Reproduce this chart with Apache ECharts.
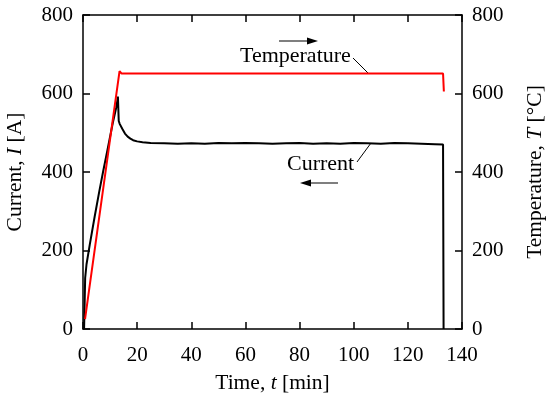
<!DOCTYPE html>
<html><head><meta charset="utf-8">
<script src="https://cdn.jsdelivr.net/npm/echarts@6/dist/echarts.min.js"></script>
<style>html,body{margin:0;padding:0;background:#fff}#c{width:550px;height:398px}</style>
</head><body><div id="c"></div>
<script>
const xTicks = [0, 20, 40, 60, 80, 100, 120, 140];
const yTicks = [0, 200, 400, 600, 800];
const currentTime = [0.4, 0.8, 1.3, 2.5, 4.3, 6, 7.4, 9, 11, 12.3, 12.9, 13.2, 13.6, 14.5, 15.5, 16.5, 17.5, 18.5, 20, 22, 25, 30, 35, 40, 45, 50, 55, 60, 65, 70, 75, 80, 85, 90, 95, 100, 105, 110, 115, 120, 125, 130, 133.0, 133.2];
const currentA = [0, 130, 165, 215, 286, 350, 400, 455, 525, 565, 592, 530, 522, 510, 498, 490, 485, 481, 478, 476, 474, 473, 472, 473, 472, 474, 473, 474, 473, 472, 473, 474, 472, 473, 472, 474, 473, 472, 474, 473, 472, 471, 470, 0];
const tempTime = [0.75, 13.5, 14.2, 30, 60, 90, 120, 133.0, 133.3];
const tempC = [25, 657, 651, 651, 651, 651, 651, 651, 605];

const FONT = "'Liberation Serif', 'DejaVu Serif', serif";
const chart = echarts.init(document.getElementById('c'), null, {renderer: 'canvas'});
const mkLine = () => ({show: true, onZero: false, lineStyle: {color: '#000', width: 1.5}});
const mkTick = () => ({show: true, inside: true, length: 7, lineStyle: {color: '#000', width: 1.5}});
const mkLbl = (m) => ({margin: m, color: '#000', fontFamily: FONT, fontSize: 21});
const mkName = () => ({color: '#000', fontFamily: FONT, fontSize: 21.5,
  rich: {i: {fontStyle: 'italic', fontFamily: FONT, fontSize: 21.5, color: '#000'}}});
chart.setOption({
  animation: false,
  backgroundColor: '#fff',
  grid: {left: 83, right: 88, top: 15, bottom: 69, containLabel: false, outerBoundsMode: 'none'},
  xAxis: [{
    type: 'value', min: xTicks[0], max: xTicks[xTicks.length-1], interval: 20,
    axisLine: mkLine(), axisTick: mkTick(), splitLine: {show: false},
    axisLabel: mkLbl(16),
    name: 'Time, {i|t} [min]', nameLocation: 'middle', nameGap: 43,
    nameTextStyle: mkName()
  }, {
    type: 'value', position: 'top', min: xTicks[0], max: xTicks[xTicks.length-1], interval: 20,
    axisLine: mkLine(), axisTick: mkTick(), axisLabel: {show: false}, splitLine: {show: false}
  }],
  yAxis: [{
    type: 'value', position: 'left', min: yTicks[0], max: yTicks[yTicks.length-1], interval: 200,
    axisLine: mkLine(), axisTick: mkTick(), splitLine: {show: false},
    axisLabel: mkLbl(10),
    name: 'Current, {i|I} [A]', nameLocation: 'middle', nameGap: 57, nameRotate: 90,
    nameTextStyle: mkName()
  }, {
    type: 'value', position: 'right', min: yTicks[0], max: yTicks[yTicks.length-1], interval: 200,
    axisLine: mkLine(), axisTick: mkTick(), splitLine: {show: false},
    axisLabel: mkLbl(10),
    name: 'Temperature, {i|T} [°C]', nameLocation: 'middle', nameGap: 62, nameRotate: 90,
    nameTextStyle: mkName()
  }],
  series: [{
    type: 'line', name: 'Current', xAxisIndex: 0, yAxisIndex: 0, showSymbol: false,
    lineStyle: {color: '#000', width: 2}, data: currentTime.map((t, i) => [t, currentA[i]])
  }, {
    type: 'line', name: 'Temperature', xAxisIndex: 0, yAxisIndex: 1, showSymbol: false,
    lineStyle: {color: '#ff0000', width: 2}, data: tempTime.map((t, i) => [t, tempC[i]])
  }],
  graphic: [
    {type: 'text', left: 240, top: 45, style: {text: 'Temperature', font: '22px ' + FONT, fill: '#000'}},
    {type: 'line', shape: {x1: 353, y1: 58, x2: 368, y2: 73}, style: {stroke: '#000', lineWidth: 1}},
    {type: 'line', shape: {x1: 279, y1: 41, x2: 313, y2: 41}, style: {stroke: '#000', lineWidth: 1.2}},
    {type: 'polygon', shape: {points: [[318, 41], [307, 37.5], [307, 44.5]]}, style: {fill: '#000'}},
    {type: 'text', left: 287, top: 153, style: {text: 'Current', font: '22px ' + FONT, fill: '#000'}},
    {type: 'line', shape: {x1: 357, y1: 162, x2: 371, y2: 143}, style: {stroke: '#000', lineWidth: 1}},
    {type: 'line', shape: {x1: 305, y1: 183, x2: 338, y2: 183}, style: {stroke: '#000', lineWidth: 1.2}},
    {type: 'polygon', shape: {points: [[300, 183], [311, 179.5], [311, 186.5]]}, style: {fill: '#000'}}
  ]
});
</script></body></html>
